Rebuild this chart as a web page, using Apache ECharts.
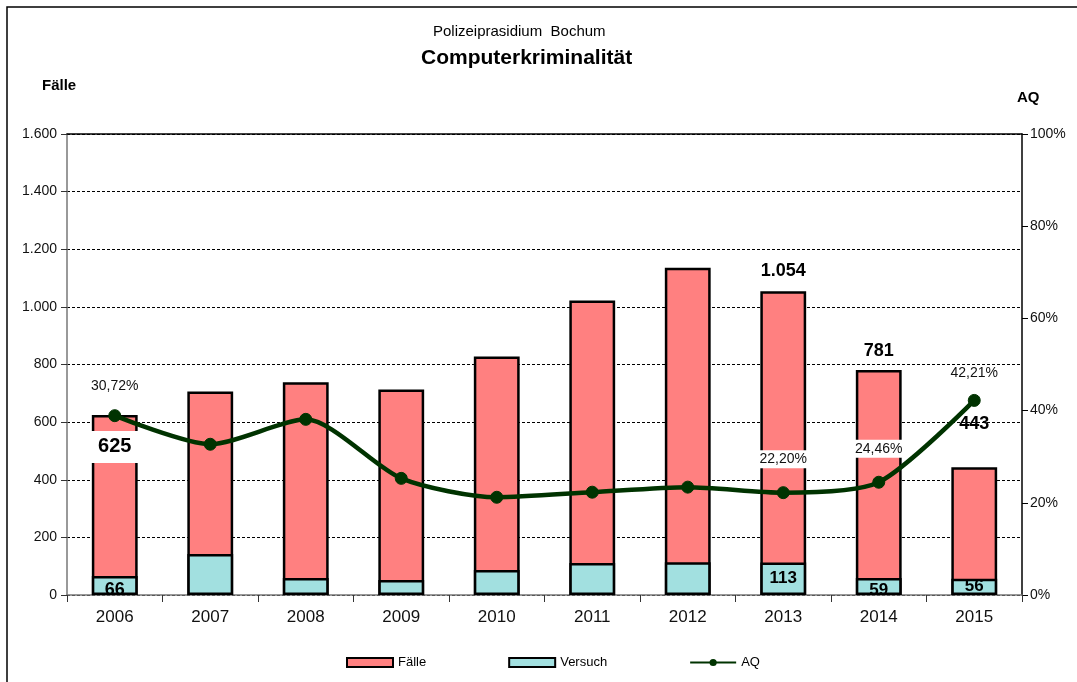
<!DOCTYPE html>
<html>
<head>
<meta charset="utf-8">
<script src="https://cdn.jsdelivr.net/npm/echarts@6/dist/echarts.min.js"></script>
<style>html,body{margin:0;padding:0;background:#fff}#c{width:1077px;height:682px}</style>
</head>
<body>
<div id="c"></div>
<script>
const years = ['2006','2007','2008','2009','2010','2011','2012','2013','2014','2015'];
const faelle = [625, 706, 738, 713, 828, 1022, 1136, 1054, 781, 443];
const versuch = [66, 142, 59, 52, 87, 111, 114, 113, 59, 56];
const aq = [38.9, 32.7, 38.1, 25.3, 21.2, 22.3, 23.4, 22.2, 24.46, 42.21];
const aqLabelText = ['30,72%', '', '', '', '', '', '', '22,20%', '24,46%', '42,21%'];
const leftTicks = [0, 200, 400, 600, 800, 1000, 1200, 1400, 1600];
const rightTicks = [0, 20, 40, 60, 80, 100];

const FONT = '"Liberation Sans", Arial, sans-serif';
function de(n){ return String(n).replace(/\B(?=(\d{3})+(?!\d))/g, '.'); }

const faelleShown = {0:{position:'insideTop', distance:16, fontSize:20, backgroundColor:'#fff', padding:[6,8,6,8]},
  7:{position:'top', distance:11, fontSize:18}, 8:{position:'top', distance:10, fontSize:18}, 9:{position:'top', distance:34, fontSize:18}};
const versuchShown = {0:{position:'insideBottom', distance:-4, fontSize:18}, 7:{position:'inside'}, 8:{position:'insideBottom', distance:-4}, 9:{position:'insideBottom', distance:0}};
const aqShown = {0:{distance:14, backgroundColor:null}, 7:{distance:18, backgroundColor:'#fff'}, 8:{distance:18, backgroundColor:'#fff'}, 9:{distance:12, backgroundColor:null}};

const faelleData = faelle.map((v,i)=>{
  const s = faelleShown[i];
  return {value:v, label: s ? Object.assign({show:true, fontWeight:'bold', color:'#000', fontFamily:FONT, formatter:(p)=>de(p.value)}, s) : {show:false}};
});
const versuchData = versuch.map((v,i)=>{
  const s = versuchShown[i];
  return {value:v, label: s ? Object.assign({show:true, fontWeight:'bold', fontSize:17, color:'#000', fontFamily:FONT}, s) : {show:false}};
});
const aqData = aq.map((v,i)=>{
  const s = aqShown[i];
  return {value:v, label: s ? Object.assign({show:true, position:'top', fontSize:14, color:'#111', fontFamily:FONT, padding:[2,4,2,4], formatter:()=>aqLabelText[i]}, s) : {show:false}};
});

const chart = echarts.init(document.getElementById('c'));
chart.setOption({
  animation:false,
  backgroundColor:'#fff',
  graphic:[
    {type:'rect', shape:{x:7,y:7,width:1100,height:700}, style:{fill:'none', stroke:'#000', lineWidth:1.5}, silent:true},
    {type:'text', x:433, y:24, style:{text:'Polizeiprasidium  Bochum', font:'15px '+FONT, fill:'#000'}},
    {type:'text', x:421, y:48, style:{text:'Computerkriminalität', font:'bold 21px '+FONT, fill:'#000'}},
    {type:'text', x:42, y:78, style:{text:'Fälle', font:'bold 15px '+FONT, fill:'#000'}},
    {type:'text', x:1017, y:90, style:{text:'AQ', font:'bold 15px '+FONT, fill:'#000'}}
  ],
  grid:{left:67, right:55, top:134, bottom:87, containLabel:false},
  legend:{
    left:341, top:651, itemWidth:46, itemHeight:9, itemGap:82,
    textStyle:{fontFamily:FONT, fontSize:13, color:'#000'},
    data:[
      {name:'Fälle', icon:'rect'},
      {name:'Versuch', icon:'rect'},
      {name:'AQ'}
    ]
  },
  xAxis:[{
    type:'category', data:years, position:'bottom',
    axisLine:{onZero:false, lineStyle:{color:'#777', width:1.5}},
    axisTick:{show:true, length:7, lineStyle:{color:'#333'}},
    axisLabel:{fontFamily:FONT, fontSize:17, color:'#111', margin:14},
    splitLine:{show:false}
  },{
    type:'category', data:years, position:'top', gridIndex:0,
    axisLine:{show:true, onZero:false, lineStyle:{color:'#000', width:1.5}},
    axisTick:{show:false}, axisLabel:{show:false}, splitLine:{show:false}
  }],
  yAxis:[{
    type:'value', min:0, max:1600, interval:200, position:'left',
    axisLine:{show:true, lineStyle:{color:'#777', width:1.5}},
    axisTick:{show:true, length:6, lineStyle:{color:'#333'}},
    axisLabel:{fontFamily:FONT, fontSize:14, color:'#111', margin:10, formatter:(v)=>de(v)},
    splitLine:{show:true, lineStyle:{color:'#000', type:[3,2], width:1}}
  },{
    type:'value', min:0, max:100, interval:20, position:'right',
    axisLine:{show:true, lineStyle:{color:'#000', width:1.5}},
    axisTick:{show:true, length:6, lineStyle:{color:'#000'}},
    axisLabel:{fontFamily:FONT, fontSize:14, color:'#111', margin:8, formatter:'{value}%'},
    splitLine:{show:false}
  }],
  series:[
    {name:'Fälle', type:'bar', data:faelleData, barWidth:'48%', barGap:'-100%', z:2,
     itemStyle:{color:'#ff8080', borderColor:'#000', borderWidth:2.5}},
    {name:'Versuch', type:'bar', data:versuchData, barWidth:'48%', barGap:'-100%', z:3,
     itemStyle:{color:'#a2e0e0', borderColor:'#000', borderWidth:2.5}},
    {name:'AQ', type:'line', yAxisIndex:1, data:aqData, smooth:0.25, z:5,
     symbol:'circle', symbolSize:12,
     lineStyle:{color:'#003300', width:4.5},
     itemStyle:{color:'#003300', borderColor:'#003300'}}
  ]
});
</script>
</body>
</html>
